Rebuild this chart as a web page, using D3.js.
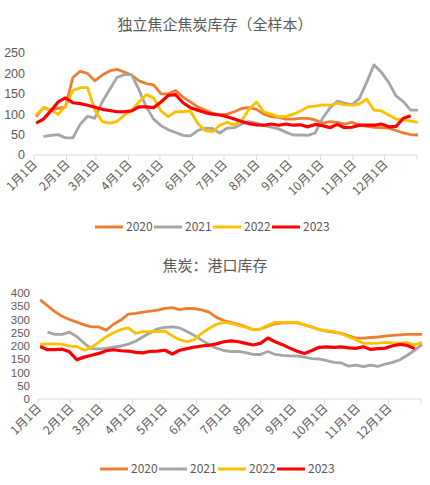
<!DOCTYPE html>
<html>
<head>
<meta charset="utf-8">
<script src="https://cdn.jsdelivr.net/npm/d3@7"></script>
<style>
  body { margin: 0; background: #fff; }
  text { font-family: "Noto Sans CJK SC", "Noto Sans", sans-serif; fill: #595959; }
  text.ylab { font-family: "Liberation Sans", Arial, sans-serif; }
</style>
</head>
<body>
<script>
// weekly values, one per week starting Jan 3
var years = ["2020", "2021", "2022", "2023"];
var colors = ["#ED7D31", "#A5A5A5", "#FFC000", "#FF0000"];

// 独立焦企焦炭库存（全样本）
var plant2020 = [94,116,110,114,118,190,205,200,182,196,206,210,203,196,182,175,172,150,150,158,142,130,118,110,103,98,100,106,114,116,112,100,94,92,88,88,90,90,86,78,82,80,76,80,74,70,68,67,66,60,54,50,49];
var plant2021 = [null,45,48,50,42,42,75,95,90,130,160,190,197,197,160,118,88,72,62,55,48,47,60,66,65,54,66,67,76,82,78,72,68,64,56,49,49,48,54,90,115,132,127,123,138,178,221,203,178,145,131,110,110];
var plant2022 = [98,116,110,100,120,158,165,165,110,82,78,82,97,110,130,148,140,108,94,106,106,108,78,60,57,73,80,74,85,112,130,106,100,94,94,100,108,118,120,123,122,127,123,122,125,137,110,108,98,88,86,83,80];
var plant2023 = [78,88,108,130,140,128,126,122,117,112,109,106,106,108,118,118,116,130,146,148,128,116,110,104,100,98,94,88,82,77,74,73,76,73,76,73,74,69,75,72,67,75,67,68,73,73,73,76,69,70,90,96,null];

// 焦炭：港口库存
var port2020 = [374,352,330,312,300,290,280,272,272,260,282,298,320,323,328,332,335,342,345,337,342,341,336,328,308,296,288,282,272,262,264,275,284,287,288,287,280,271,262,256,252,248,238,230,230,232,234,237,240,242,244,244,244];
var port2021 = [null,252,244,244,252,236,210,190,189,191,196,200,207,218,235,250,265,270,272,268,255,240,222,205,192,183,179,180,175,168,168,179,168,165,163,162,158,152,151,145,138,136,124,128,122,128,123,132,138,148,165,184,206];
var port2022 = [206,208,208,206,200,198,184,195,215,235,250,262,268,248,254,254,254,256,238,224,216,224,248,266,282,289,285,278,271,262,265,278,289,289,289,289,280,272,262,258,254,246,235,224,210,210,211,214,212,211,213,204,214];
var port2023 = [198,186,186,188,178,148,158,165,172,182,186,182,181,176,174,180,181,184,170,184,190,196,200,203,208,216,219,216,210,204,210,230,216,205,192,180,172,183,195,197,195,197,193,191,197,187,190,192,201,206,202,190,null];

var charts = [
  {title: "独立焦企焦炭库存（全样本）", series: [plant2020, plant2021, plant2022, plant2023],
   yMax: 250, yStep: 50, yFont: 12.5, x0: 34, x1: 417, yTop: 53, yBottom: 155, labelRight: 25, titleY: 30, legendY: 227, legendX: 95},
  {title: "焦炭：港口库存", series: [port2020, port2021, port2022, port2023],
   yMax: 400, yStep: 50, yFont: 11.5, x0: 38, x1: 421, yTop: 293, yBottom: 399, labelRight: 30, titleY: 271, legendY: 469, legendX: 100}
];

var svg = d3.select("body").append("svg")
  .attr("width", 430)
  .attr("height", 485);

var start = new Date(2023, 0, 1), end = new Date(2024, 0, 1);

charts.forEach(function(c) {
  var x = d3.scaleTime().domain([start, end]).range([c.x0, c.x1]);
  var y = d3.scaleLinear().domain([0, c.yMax]).range([c.yBottom, c.yTop]);
  var g = svg.append("g");

  g.append("text")
    .attr("x", 215).attr("y", c.titleY)
    .attr("text-anchor", "middle")
    .style("font-size", "15px")
    .text(c.title);

  // y labels, no axis line
  g.selectAll(".ylab")
    .data(d3.range(0, c.yMax + 1, c.yStep))
    .enter().append("text")
    .attr("class", "ylab")
    .attr("x", c.labelRight)
    .attr("y", function(d) { return y(d); })
    .attr("dy", "0.35em")
    .attr("text-anchor", "end")
    .style("font-size", c.yFont + "px")
    .text(function(d) { return d; });

  // x axis
  var months = d3.timeMonth.range(start, d3.timeDay.offset(end, 1));
  g.append("line")
    .attr("x1", c.x0).attr("x2", c.x1)
    .attr("y1", c.yBottom).attr("y2", c.yBottom)
    .attr("stroke", "#D9D9D9");
  g.selectAll(".tick")
    .data(months)
    .enter().append("line")
    .attr("x1", function(d) { return x(d); })
    .attr("x2", function(d) { return x(d); })
    .attr("y1", c.yBottom).attr("y2", c.yBottom + 5)
    .attr("stroke", "#D9D9D9");
  g.selectAll(".xlab")
    .data(months.slice(0, 12))
    .enter().append("text")
    .attr("text-anchor", "end")
    .attr("transform", function(d) {
      return "translate(" + (x(d) + 4) + "," + (c.yBottom + 10) + ") rotate(-45)";
    })
    .style("font-size", "12px")
    .text(function(d) { return (d.getMonth() + 1) + "月1日"; });

  var line = d3.line()
    .defined(function(d) { return d.v !== null; })
    .x(function(d) { return x(d.date); })
    .y(function(d) { return y(d.v); });

  c.series.forEach(function(s, k) {
    var pts = s.map(function(v, i) {
      return {date: d3.timeDay.offset(new Date(2023, 0, 3), 7 * i), v: v};
    });
    g.append("path")
      .datum(pts)
      .attr("d", line)
      .attr("fill", "none")
      .attr("stroke", colors[k])
      .attr("stroke-width", k === 3 ? 3.2 : 2.8)
      .attr("stroke-linejoin", "round");
  });

  // legend
  var lg = g.selectAll(".lg")
    .data(years)
    .enter().append("g")
    .attr("transform", function(d, i) { return "translate(" + (c.legendX + i * 59) + "," + c.legendY + ")"; });
  lg.append("line")
    .attr("x1", 0).attr("x2", 28)
    .attr("stroke", function(d, i) { return colors[i]; })
    .attr("stroke-width", 3);
  lg.append("text")
    .attr("x", 31)
    .attr("dy", "0.35em")
    .style("font-size", "12px")
    .text(function(d) { return d; });
});
</script>
</body>
</html>
